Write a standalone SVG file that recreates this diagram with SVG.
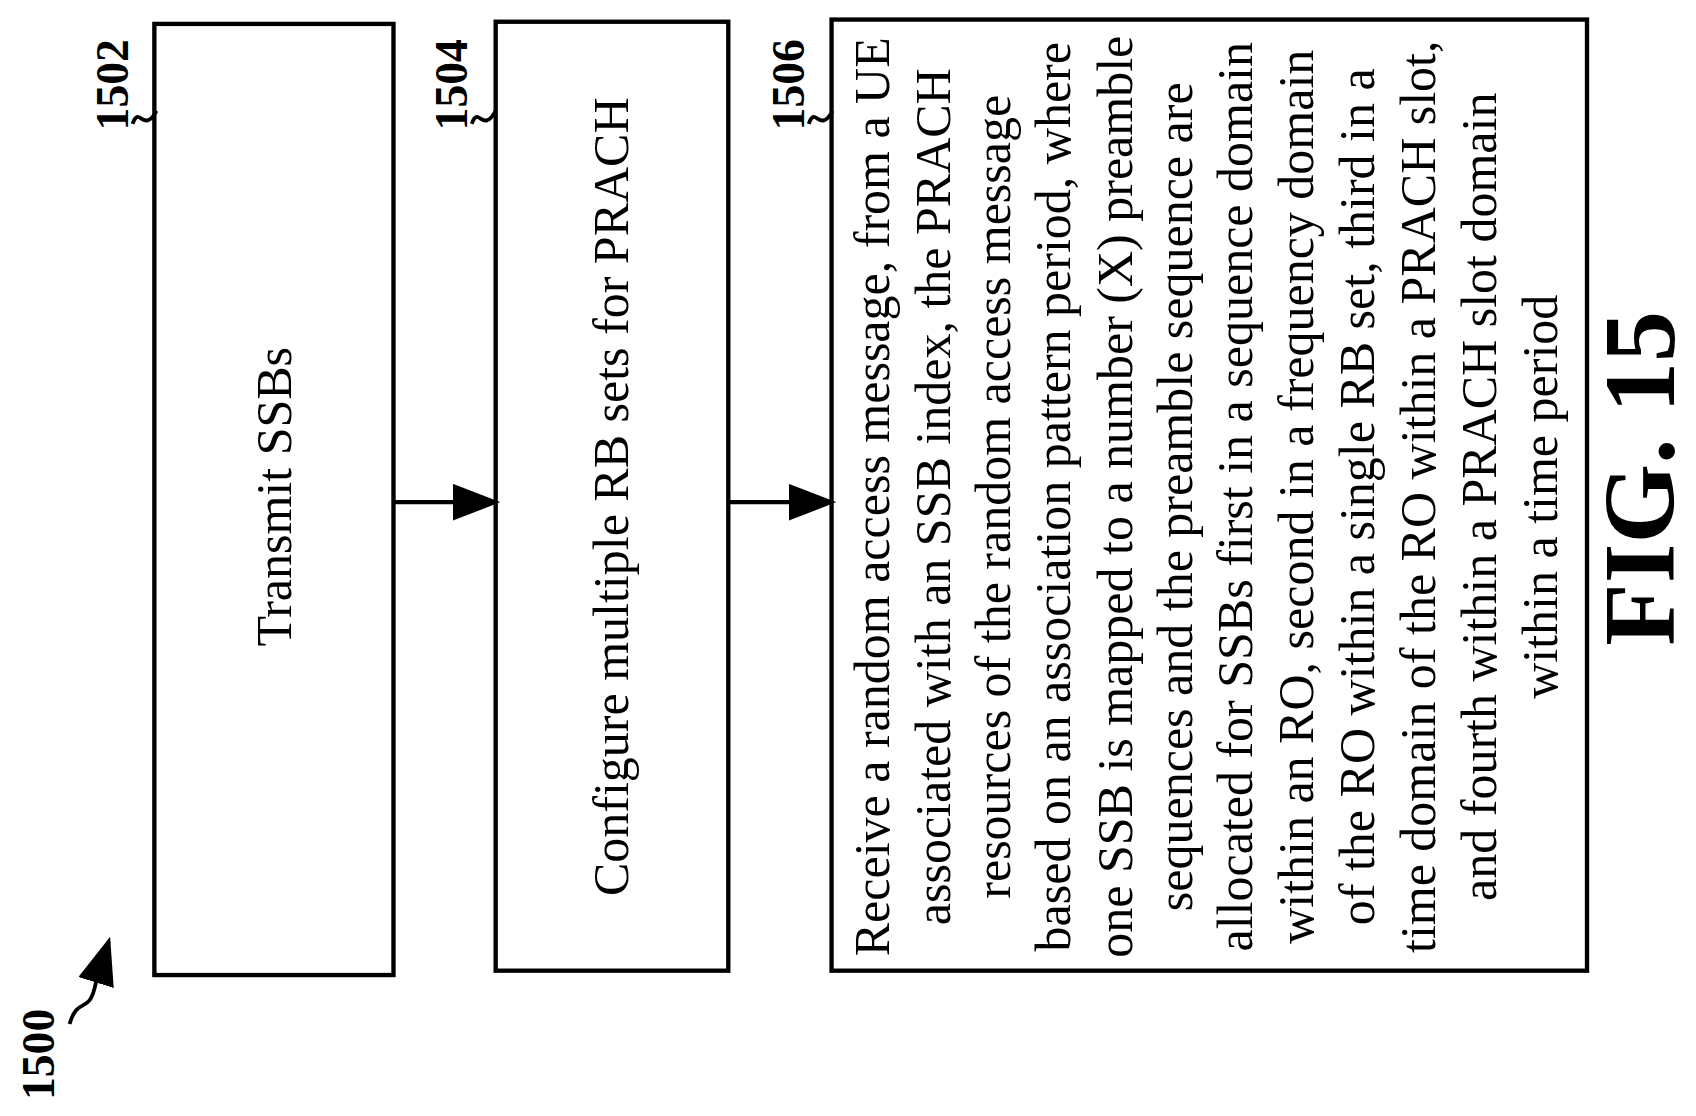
<svg xmlns="http://www.w3.org/2000/svg" width="1696" height="1116" viewBox="0 0 1696 1116">
<style>
.box{fill:#fff;stroke:#000;stroke-width:4}
.t{font-family:"Liberation Serif",serif;font-size:46px;fill:#000}
.lb{font-family:"Liberation Serif",serif;font-size:42px;font-weight:bold;fill:#000}
.c{fill:none;stroke:#000;stroke-width:3.5}
</style>
<defs>
<marker id="ah2" viewBox="0 0 10 10" refX="9" refY="5" markerWidth="44" markerHeight="34" markerUnits="userSpaceOnUse" orient="auto" preserveAspectRatio="none"><path d="M0,0 L10,5 L0,10 Z"/></marker></defs>
<rect width="1696" height="1116" fill="#fff"/>
<g transform="scale(1.087)">
<g id="n1502"><rect class="box" x="142" y="22" width="220" height="875"/>
<text class="t" text-anchor="middle" transform="translate(268,457) rotate(-90)">Transmit SSBs</text>
<text class="lb" text-anchor="middle" transform="translate(118,78) rotate(-90)">1502</text>
<path class="c" d="M122,114 C128,96 132,124 144,102"/></g>
<g id="n1504"><rect class="box" x="456" y="20" width="214" height="873"/>
<text class="t" text-anchor="middle" transform="translate(578,457) rotate(-90)">Configure multiple RB sets for PRACH</text>
<text class="lb" text-anchor="middle" transform="translate(430,78) rotate(-90)">1504</text>
<path class="c" d="M434,114 C440,96 444,124 456,102"/></g>
<g id="n1506"><rect class="box" x="765" y="18" width="695" height="875"/>
<g class="t" text-anchor="middle">
<text transform="translate(818,457) rotate(-90)">Receive a random access message, from a UE</text>
<text transform="translate(874,457) rotate(-90)">associated with an SSB index, the PRACH</text>
<text transform="translate(929,457) rotate(-90)">resources of the random access message</text>
<text transform="translate(984,457) rotate(-90)">based on an association pattern period, where</text>
<text transform="translate(1041,457) rotate(-90)">one SSB is mapped to a number (X) preamble</text>
<text transform="translate(1097,457) rotate(-90)">sequences and the preamble sequence are</text>
<text transform="translate(1152,457) rotate(-90)">allocated for SSBs first in a sequence domain</text>
<text transform="translate(1208,457) rotate(-90)">within an RO, second in a frequency domain</text>
<text transform="translate(1264,457) rotate(-90)">of the RO within a single RB set, third in a</text>
<text transform="translate(1320,457) rotate(-90)">time domain of the RO within a PRACH slot,</text>
<text transform="translate(1376,457) rotate(-90)">and fourth within a PRACH slot domain</text>
<text transform="translate(1432,457) rotate(-90)">within a time period</text>
</g>
<text class="lb" text-anchor="middle" transform="translate(740,78) rotate(-90)">1506</text>
<path class="c" d="M744,114 C750,96 754,124 766,102"/></g>
<g id="n1500"><text class="lb" text-anchor="middle" transform="translate(50,970) rotate(-90)">1500</text>
<path class="c" d="M64,942 C72,915 82,935 88,905 L100,866" marker-end="url(#ah2)"/></g>
<g id="fig"><text font-family="Liberation Serif,serif" font-weight="bold" font-size="94" text-anchor="middle" transform="translate(1540,440) rotate(-90)">FIG. 15</text></g>
<g id="connectors">
<line x1="362" y1="462" x2="456" y2="462" stroke="#000" stroke-width="4" marker-end="url(#ah2)"/>
<line x1="670" y1="462" x2="765" y2="462" stroke="#000" stroke-width="4" marker-end="url(#ah2)"/>
</g>
</g>
</svg>
